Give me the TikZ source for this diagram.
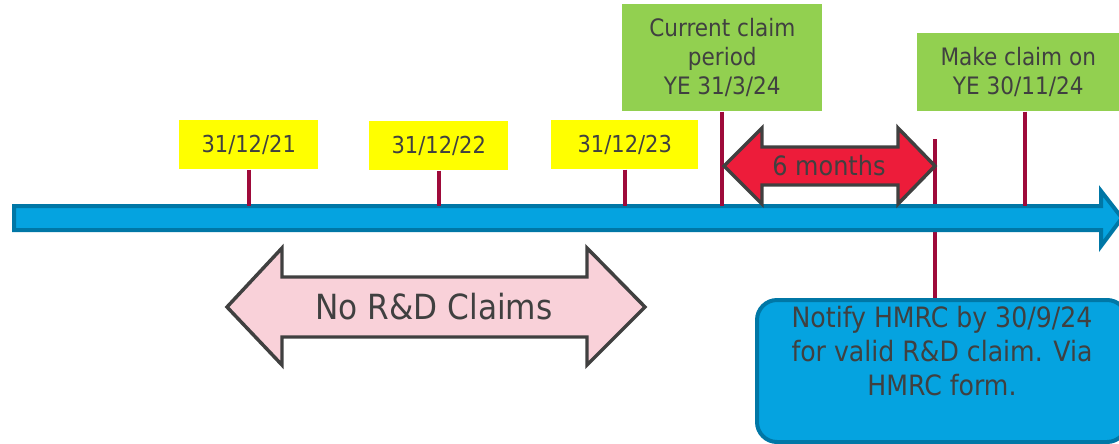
\documentclass[tikz,border=0pt]{standalone}
\usepackage{fontspec}
\setmainfont{DejaVu Sans Condensed}
\usetikzlibrary{calc,positioning}

\definecolor{txtgray}{HTML}{404040}
\definecolor{dateyellow}{HTML}{FFFF00}
\definecolor{claimgreen}{HTML}{92D050}
\definecolor{lineblue}{HTML}{05A3E0}
\definecolor{lineedge}{HTML}{0077A6}
\definecolor{tickred}{HTML}{9E0A3A}
\definecolor{sixred}{HTML}{ED1C3A}
\definecolor{nopink}{HTML}{F9D1D9}

\begin{document}
\begin{tikzpicture}[
    x=0.75pt,y=-0.75pt,
    every node/.style={text=txtgray,font=\fontsize{18}{21.75}\selectfont},
    datebox/.style={
      fill=dateyellow,inner sep=0pt,minimum width=104.25pt,minimum height=36.75pt,anchor=north west,
      font=\fontsize{17.5}{21}\selectfont
    },
    claimbox/.style={
      fill=claimgreen,inner sep=0pt,minimum width=150pt,align=center,anchor=north west
    },
    tick/.style={draw=tickred,line width=3pt},
    bigarrow/.style={draw=txtgray,line width=2.6pt,line join=miter}
  ]

  \useasboundingbox (0,0) rectangle (1119,443);

  % boxes above the line
  \node (d21) [datebox] at (179,120) {31/12/21};
  \node (d22) [datebox] at (369,121) {31/12/22};
  \node (d23) [datebox,minimum width=110.25pt] at (551,120) {31/12/23};
  \node (cur) [claimbox,minimum height=80.25pt] at (622,4) {Current claim\\period\\YE 31/3/24};
  \node (make) [claimbox,minimum width=151.5pt,minimum height=58.5pt] at (917,33) {Make claim on\\YE 30/11/24};

  % notify box
  \node (notify) [draw=lineedge,fill=lineblue,line width=3pt,rounded corners=15pt,
    minimum width=277.5pt,minimum height=106.5pt,anchor=north west] at (755,298) {};
  \node (notifytxt) [below=3pt of notify.north,align=center,
    font=\fontsize{21}{25.5}\selectfont] {Notify HMRC by 30/9/24\\for valid R\&D claim. Via\\HMRC form.};

  \coordinate (sixend) at (935,139);
  \coordinate (tltop) at (0,206);
  \draw [tick] (sixend) -- (sixend |- notify.north);

  % time line
  \draw [draw=lineedge,fill=lineblue,line width=3pt,line join=miter]
    (14,206) -- (1101,206) -- (1101,191) -- (1122,218) -- (1101,246)
    -- (1101,230) -- (14,230) -- cycle;

  % ticks
  \foreach \b in {d21,d22,d23,cur} {
    \draw [tick] (\b.south) -- (\b.south |- tltop);
  }
  \draw [tick] ([xshift=5.25pt]make.south) -- ([xshift=5.25pt]make.south |- tltop);

  % six months
  \draw [bigarrow,fill=sixred]
    (724,166) -- (762,128) -- (762,147) -- (898,147) -- (898,128) -- (935,166)
    -- (898,204) -- (898,185) -- (762,185) -- (762,204) -- cycle;
  \node (six) at (829,166) {\fontsize{20}{24}\selectfont 6 months};

  % no claims
  \draw [bigarrow,fill=nopink]
    (227,307) -- (282,248) -- (282,277) -- (587,277) -- (587,248) -- (645,307)
    -- (587,365) -- (587,337) -- (282,337) -- (282,365) -- cycle;
  \node (noclaims) at (434,307) {\fontsize{26}{30}\selectfont No R\&D Claims};
\end{tikzpicture}
\end{document}
